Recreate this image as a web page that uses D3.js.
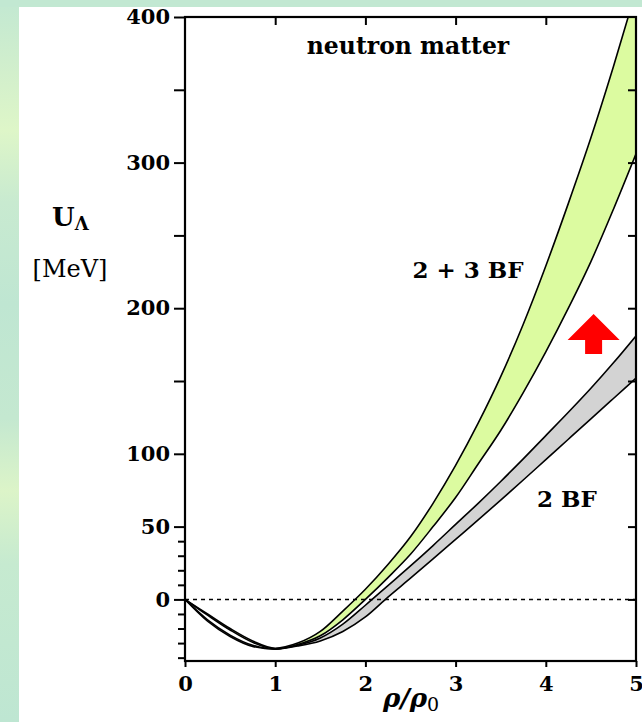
<!DOCTYPE html>
<html><head><meta charset="utf-8">
<script src="https://cdn.jsdelivr.net/npm/d3@7"></script>
<style>
html,body{margin:0;padding:0;background:#fff;}
svg{display:block;}
</style></head>
<body>
<script>
// ---- data ----
const rho = [0,0.25,0.5,0.75,1,1.25,1.5,1.75,2,2.25,2.5,2.75,3,3.25,3.5,3.75,4,4.25,4.5,4.75,5];
const band23Upper = [0,-10,-20,-28.5,-33.5,-30,-22,-8,7,24,43,66,92,121,153,189,229,272,317,366,418];
const band23Lower = [0,-10.8,-21,-29.5,-34,-31,-25,-14,0,15,31,50,70,93,116,142,170,200,232,268,306];
const band2Upper  = [0,-14,-24.5,-31.5,-34,-31.5,-26.5,-17,-4,9.5,23,37,51.5,66,81,96.5,112.5,128.5,145,162.5,181];
const band2Lower  = [0,-15,-25.5,-32.3,-34.2,-32,-28.5,-22,-12,1.6,14.6,27.8,41.2,54.6,68.2,82,96,110,124,138,152];
const xTicks = [0,1,2,3,4,5];
const xTopTicks = [1,2,3,4];
const yMajorTicks = [0,50,100,200,300,400];
const yMidTicks = [150,250,350];
const yMinorTicks = [-40,-30,-20,-10,10,20,30,40];
const yRightTicks = [0,50,100,150,200,250,300,350];
const arrowAt = [4.53, 196];   // tip of red arrow (rho, U)

const W = 642, H = 722;
const svg = d3.select("body").append("svg").attr("width",W).attr("height",H);
const defs = svg.append("defs");

// background
const g1 = defs.append("linearGradient").attr("id","bgl").attr("x1",0).attr("y1",0).attr("x2",0).attr("y2",1);
[[0,"#c2e8d2"],[0.1,"#d2efcc"],[0.18,"#def6c8"],[0.28,"#c8ead0"],[0.42,"#bfe6d2"],[0.58,"#c4e8d0"],[0.68,"#dcf4c8"],[0.78,"#c6ead0"],[1,"#bee6d2"]]
  .forEach(s=>g1.append("stop").attr("offset",s[0]).attr("stop-color",s[1]));
svg.append("rect").attr("width",W).attr("height",H).attr("fill","url(#bgl)");
svg.append("rect").attr("x",0).attr("y",0).attr("width",W).attr("height",7).attr("fill","#c2e8d2");
svg.append("rect").attr("x",19).attr("y",7).attr("width",W-19).attr("height",H-7).attr("fill","#ffffff");

const x = d3.scaleLinear().domain([0,5]).range([185,636]);
const y = d3.scaleLinear().domain([-42.3,400]).range([661,17]);

defs.append("clipPath").attr("id","plot").append("rect")
  .attr("x",x(0)).attr("y",y(400)).attr("width",x(5)-x(0)).attr("height",y(-42.3)-y(400));

const plot = svg.append("g").attr("clip-path","url(#plot)");

function band(up, lo, fill){
  const pts = rho.map((r,i)=>({r, u:up[i], l:lo[i]}));
  const area = d3.area().x(d=>x(d.r)).y0(d=>y(d.l)).y1(d=>y(d.u)).curve(d3.curveMonotoneX);
  plot.append("path").datum(pts).attr("d",area).attr("fill",fill).attr("stroke","none");
  const line = d3.line().x(d=>x(d.r)).curve(d3.curveMonotoneX);
  plot.append("path").datum(pts).attr("d",line.y(d=>y(d.u))).attr("fill","none").attr("stroke","#000").attr("stroke-width",1.6);
  plot.append("path").datum(pts).attr("d",line.y(d=>y(d.l))).attr("fill","none").attr("stroke","#000").attr("stroke-width",1.6);
}
band(band2Upper, band2Lower, "#d3d3d3");
band(band23Upper, band23Lower, "#dcfba0");

// zero dashed line
plot.append("line").attr("x1",x(0)).attr("x2",x(5)).attr("y1",y(0)).attr("y2",y(0))
  .attr("stroke","#000").attr("stroke-width",1.5).attr("stroke-dasharray","4,4");

// red arrow
const ax = x(arrowAt[0]), ay = y(arrowAt[1]);
svg.append("path").attr("fill","#ff0000")
  .attr("d", d3.line()([[ax,ay],[ax+26,ay+26],[ax+8.5,ay+26],[ax+8.5,ay+40],[ax-8.5,ay+40],[ax-8.5,ay+26],[ax-26,ay+26]]) + "Z");

// axes
const font = "'DejaVu Serif', serif";
function styleAxis(g){
  g.select(".domain").remove();
  g.selectAll(".tick line").attr("stroke","#000").attr("stroke-width",2);
  g.selectAll(".tick text").attr("fill","#000").attr("font-family",font).attr("font-weight","bold").attr("font-size",21);
}
svg.append("g").attr("transform",`translate(${x(0)},0)`)
  .call(d3.axisLeft(y).tickValues(yMajorTicks).tickSize(11).tickPadding(4).tickFormat(d3.format("d"))).call(styleAxis);
svg.append("g").attr("transform",`translate(${x(0)},0)`)
  .call(d3.axisLeft(y).tickValues(yMidTicks).tickSize(11).tickFormat("")).call(styleAxis);
svg.append("g").attr("transform",`translate(${x(0)},0)`)
  .call(d3.axisLeft(y).tickValues(yMinorTicks).tickSize(7).tickFormat("")).call(styleAxis);
svg.append("g").attr("transform",`translate(${x(5)},0)`)
  .call(d3.axisLeft(y).tickValues(yRightTicks).tickSize(8).tickFormat("")).call(styleAxis);
svg.append("g").attr("transform",`translate(0,${y(-42.3)})`)
  .call(d3.axisBottom(x).tickValues(xTicks).tickSize(6).tickPadding(9).tickFormat(d3.format("d"))).call(styleAxis);
svg.append("g").attr("transform",`translate(0,${y(400)})`)
  .call(d3.axisBottom(x).tickValues(xTopTicks).tickSize(8).tickFormat("")).call(styleAxis);

// frame
svg.append("rect").attr("x",x(0)).attr("y",y(400)).attr("width",x(5)-x(0)).attr("height",y(-42.3)-y(400))
  .attr("fill","none").attr("stroke","#000").attr("stroke-width",2.2);

// texts
function txt(t, px, py, size, weight, anchor, style){
  return svg.append("text").attr("x",px).attr("y",py).attr("font-family",font).attr("font-size",size)
    .attr("font-weight",weight||"bold").attr("text-anchor",anchor||"middle").attr("font-style",style||"normal").attr("fill","#000").text(t);
}
txt("neutron matter", 408, 54, 23.5);
txt("2 + 3 BF", 468, 278, 23);
txt("2 BF", 567, 507, 23);
const ul = txt("U", 52, 226, 26, "bold", "start");
ul.append("tspan").attr("font-size",18).attr("dy",4).text("Λ");
txt("[MeV]", 70, 277, 24, "normal");
const xl = txt("ρ/ρ", 383, 707, 26, "bold", "start", "italic");
xl.append("tspan").attr("font-size",19).attr("font-weight","normal").attr("font-style","normal").attr("dy",4).text("0");
</script>
</body></html>
